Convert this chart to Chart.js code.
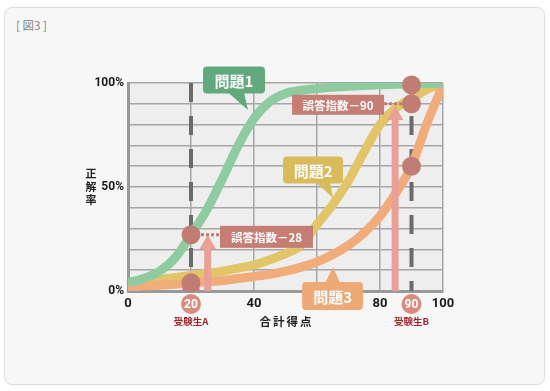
<!DOCTYPE html>
<html>
<head>
<meta charset="utf-8">
<script src="https://cdn.jsdelivr.net/npm/chart.js@4.4.0/dist/chart.umd.min.js"></script>
<style>
  body { margin: 0; background: #fff; }
  #wrap { position: relative; width: 550px; height: 391px; }
  .card { position: absolute; left: 4px; top: 7px; width: 541px; height: 378px; box-sizing: border-box;
          border: 1px solid #dcdcdc; border-radius: 8px; background: #f7f7f7; }
  .fig { position: absolute; left: 16px; top: 17px; font: 11.5px "Noto Sans CJK JP"; color: #808080; white-space: pre; }
  canvas { position: absolute; left: 0; top: 0; }
</style>
</head>
<body>
<div id="wrap">
  <div class="card"></div>
  <div class="fig">[ 図3 ]</div>
  <canvas id="myChart" width="550" height="391"></canvas>
</div>
<script>
// 合計得点 (x) ごとの正解率 (%)
const curveX  = [0, 5, 10, 15, 20, 25, 30, 35, 40, 45, 50, 55, 60, 65, 70, 75, 80, 85, 90, 95, 100];
const mondai1 = [4, 6, 9.5, 16, 27, 39, 54, 70, 83, 91, 95, 96.5, 97.3, 97.9, 98.4, 98.8, 99.1, 99.4, 99.6, 99.8, 100];
const mondai2 = [4, 4.5, 5.5, 6.5, 7.5, 8.5, 9.5, 11, 12.5, 15, 18, 22, 32, 41.5, 53, 67, 80, 88, 92.5, 97, 100];
const mondai3 = [2, 2.4, 2.8, 3.3, 3.8, 4.4, 5, 6, 7, 8, 9.5, 11.5, 14, 17.5, 22, 28, 36, 47, 60, 81, 99];

const studentScores = [20, 90];
const studentNames  = ['受験生A', '受験生B'];
const markerX = [20, 20, 90, 90, 90];
const markerY = [27, 4, 99, 90, 60];
const arrowX   = [25.3, 84.8];
const arrowTip = [27, 89];

const xTickLabels = [0, 40, 80, 100];
const yTickLabels = [0, 50, 100];

// 吹き出し・ラベル (tip はデータ座標)
const callouts = [
  { text: '問題1', tip: [38.1, 87],   box: [-14, -30], w: 62, h: 27, base: [-6, 10],    color: '#62a97d' },
  { text: '問題2', tip: [65.1, 44.7], box: [-20, -28], w: 60, h: 27, base: [3, 17],     color: '#d9bb5c' },
  { text: '問題3', tip: [65.1, 11.5], box: [-0.5, 29], w: 61, h: 28, base: [-7.5, 7.5], color: '#eeaa76' }
];
const errLabels = [
  { text: '誤答指数－28', at: [29.2, 27], dir: 1,  w: 93, h: 22, dy: 2 },
  { text: '誤答指数－90', at: [81.3, 90], dir: -1, w: 92, h: 20, dy: 1 }
];

const FONT = '"Noto Sans CJK JP", "Noto Sans", sans-serif';
const NUM = 'Roboto, "Noto Sans", sans-serif';
const MARK = '#c17d74';
const ARROW = '#e9a097';

const pts = ys => curveX.map((v, i) => ({ x: v, y: ys[i] }));
const curve = (label, ys, color, order) => ({
  label, data: pts(ys), showLine: true, borderColor: color, borderWidth: 9,
  pointRadius: 0, cubicInterpolationMode: 'monotone', order
});

const datasets = [
  { label: 'markers', data: markerX.map((v, i) => ({ x: v, y: markerY[i] })), pointRadius: 9.5,
    pointBackgroundColor: MARK, pointBorderWidth: 0, showLine: false, clip: false, order: 0 },
  { label: 'pin', data: [{ x: markerX[1], y: 0 }, { x: markerX[1], y: markerY[1] }], showLine: true,
    borderColor: MARK, borderWidth: 17, pointRadius: 0, order: 1 },
  { label: 'dotA', data: [{ x: markerX[0], y: markerY[0] }, { x: errLabels[0].at[0], y: markerY[0] }], showLine: true,
    borderColor: MARK, borderWidth: 3, borderDash: [3, 2], pointRadius: 0, order: 2 },
  { label: 'dotB', data: [{ x: errLabels[1].at[0], y: markerY[3] }, { x: markerX[3], y: markerY[3] }], showLine: true,
    borderColor: MARK, borderWidth: 3, borderDash: [3, 2], pointRadius: 0, order: 2 },
  { label: 'heads', data: arrowX.map((v, i) => ({ x: v, y: arrowTip[i] - 4.5 })), pointStyle: 'triangle',
    pointRadius: 9.5, pointBackgroundColor: ARROW, pointBorderWidth: 0, showLine: false, order: 2 }
];
arrowX.forEach((v, i) => datasets.push({
  label: 'shaft' + i, data: [{ x: v, y: 0 }, { x: v, y: arrowTip[i] - 6 }], showLine: true,
  borderColor: ARROW, borderWidth: 7, pointRadius: 0, order: 3
}));
datasets.push(curve('問題1', mondai1, '#8ecba0', 4));
datasets.push(curve('問題3', mondai3, '#f0ad7b', 5));
datasets.push(curve('問題2', mondai2, '#e2c568', 6));
studentScores.forEach(s => datasets.push({
  label: 'line' + s, data: [{ x: s, y: 100 }, { x: s, y: 0 }], showLine: true,
  borderColor: '#6b6b6b', borderWidth: 4, borderDash: [19, 14], pointRadius: 0, order: 7
}));

const decor = {
  id: 'decor',
  beforeDraw(chart) {
    const { ctx, chartArea: a } = chart;
    ctx.save();
    ctx.fillStyle = '#efeeef';
    ctx.fillRect(a.left, a.top, a.right - a.left, a.bottom - a.top);
    ctx.restore();
  },
  afterDraw(chart) {
    const { ctx, chartArea: a, scales: { x, y } } = chart;
    ctx.save();
    ctx.textAlign = 'center';
    ctx.textBaseline = 'middle';

    // 吹き出し
    callouts.forEach(c => {
      const tx = x.getPixelForValue(c.tip[0]), ty = y.getPixelForValue(c.tip[1]);
      const cx = tx + c.box[0], cy = ty + c.box[1];
      ctx.fillStyle = c.color;
      ctx.beginPath();
      ctx.roundRect(cx - c.w / 2, cy - c.h / 2, c.w, c.h, 4);
      ctx.fill();
      const edge = c.box[1] < 0 ? cy + c.h / 2 - 1 : cy - c.h / 2 + 1;
      ctx.beginPath();
      ctx.moveTo(cx + c.base[0], edge);
      ctx.lineTo(tx, ty);
      ctx.lineTo(cx + c.base[1], edge);
      ctx.closePath();
      ctx.fill();
      ctx.fillStyle = '#fff';
      ctx.font = 'bold 15px ' + FONT;
      ctx.fillText(c.text, cx, cy + 1);
    });

    // 誤答指数ラベル
    errLabels.forEach(l => {
      const px = x.getPixelForValue(l.at[0]), py = y.getPixelForValue(l.at[1]) + l.dy;
      const left = l.dir > 0 ? px : px - l.w;
      ctx.fillStyle = '#c67d74';
      ctx.fillRect(left, py - l.h / 2, l.w, l.h);
      ctx.fillStyle = '#fff';
      ctx.font = 'bold 11.5px ' + FONT;
      ctx.fillText(l.text, left + l.w / 2, py + 1);
    });

    // 受験生バッジ
    studentScores.forEach((s, i) => {
      const px = x.getPixelForValue(s), cy = a.bottom + 13;
      ctx.fillStyle = '#d98b80';
      ctx.beginPath();
      ctx.arc(px, cy, 10, 0, Math.PI * 2);
      ctx.fill();
      ctx.fillStyle = '#fff';
      ctx.font = 'bold 12px ' + NUM;
      ctx.fillText(String(s), px, cy + 0.5);
      ctx.fillStyle = '#a3242a';
      ctx.font = 'bold 9.5px ' + FONT;
      ctx.fillText(studentNames[i], px, cy + 17);
    });

    // 軸タイトル
    ctx.fillStyle = '#222';
    ctx.font = 'bold 11.5px ' + FONT;
    ctx.letterSpacing = '2px';
    ctx.fillText('合計得点', (a.left + a.right) / 2 + 1, a.bottom + 31);
    ctx.letterSpacing = '0px';
    ctx.font = 'bold 11px ' + FONT;
    ['正', '解', '率'].forEach((ch, i) => ctx.fillText(ch, 91, 174 + i * 13));
    ctx.restore();
  }
};

const ctx = document.getElementById('myChart').getContext('2d');
const myChart = new Chart(ctx, {
  type: 'scatter',
  data: { datasets },
  options: {
    responsive: false,
    animation: false,
    layout: { padding: { top: 83, right: 107, bottom: 0, left: 0 } },
    plugins: { legend: { display: false }, tooltip: { enabled: false } },
    scales: {
      x: {
        type: 'linear', min: 0, max: 100,
        afterFit: s => { s.height = 100; },
        ticks: {
          stepSize: 20, autoSkip: false, maxRotation: 0, padding: 5, color: '#1a1a1a',
          font: { family: NUM, size: 13, weight: 'bold' },
          callback: v => xTickLabels.includes(v) ? String(v) : ''
        },
        grid: { color: '#a6a6a6', lineWidth: 1.5, drawTicks: false },
        border: { color: '#999', width: 3 }
      },
      y: {
        min: 0, max: 100,
        afterFit: s => { s.width = 128; },
        ticks: {
          stepSize: 10, padding: 4, color: '#1a1a1a',
          font: { family: NUM, size: 12, weight: 'bold' },
          callback: v => yTickLabels.includes(v) ? v + '%' : ''
        },
        grid: { color: '#a6a6a6', lineWidth: 1.5, drawTicks: false },
        border: { color: '#999', width: 3 }
      }
    }
  },
  plugins: [decor]
});
</script>
</body>
</html>
